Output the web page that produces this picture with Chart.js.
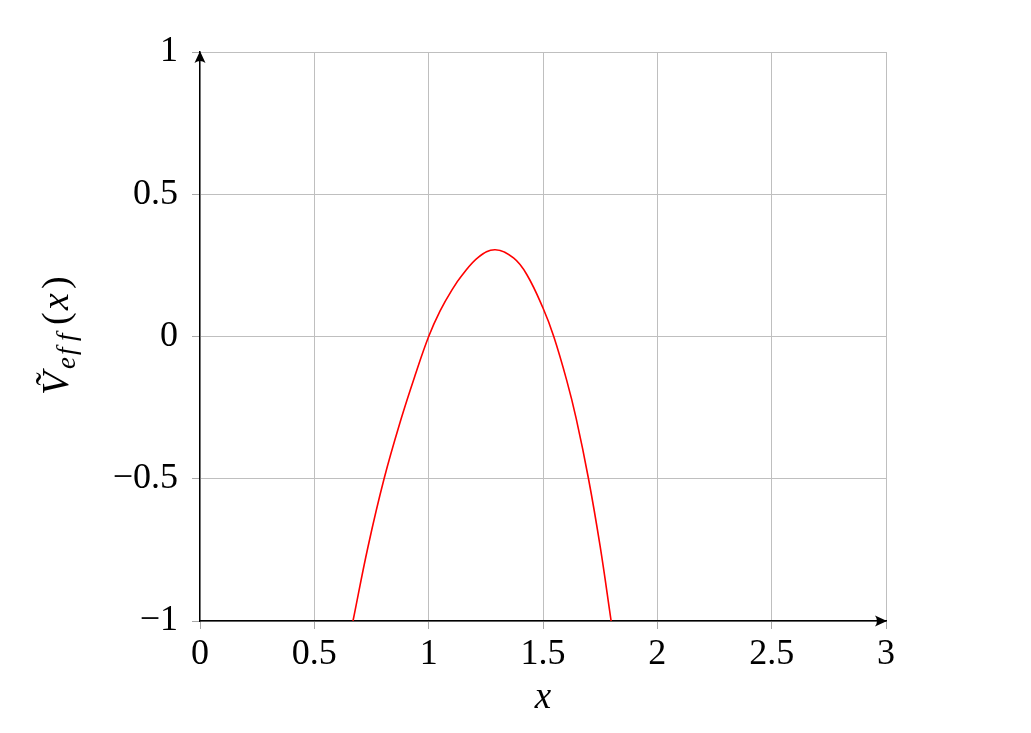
<!DOCTYPE html>
<html>
<head>
<meta charset="utf-8">
<script src="https://cdn.jsdelivr.net/npm/chart.js@4/dist/chart.umd.min.js"></script>
<style>
  html, body { margin: 0; padding: 0; background: #fff; }
  #wrap { width: 1031px; height: 733px; }
</style>
</head>
<body>
<div id="wrap"><canvas id="chart1" width="1031" height="733"></canvas></div>
<script>
// curve
const xValues = [0.669, 0.735, 0.805, 0.879, 0.94, 1.0, 1.05, 1.102, 1.146, 1.218, 1.291, 1.371, 1.429, 1.5, 1.547, 1.604, 1.645, 1.699, 1.75, 1.798];
const yValues = [-1, -0.738, -0.5, -0.291, -0.138, 0, 0.09, 0.164, 0.215, 0.279, 0.305, 0.276, 0.218, 0.1, 0, -0.155, -0.288, -0.5, -0.738, -1];

const xTicks = [0, 0.5, 1, 1.5, 2, 2.5, 3];
const yTicks = [-1, -0.5, 0, 0.5, 1];

const serif = '"Liberation Serif", "DejaVu Serif", serif';
const points = xValues.map((x, i) => ({ x: x, y: yValues[i] }));

function fmt(v) {
  return String(v).replace('-', '\u2212');
}

// arrows on the axes and the axis titles
const decor = {
  id: 'decor',
  afterDraw(chart) {
    const ctx = chart.ctx;
    const a = chart.chartArea;
    ctx.save();
    ctx.fillStyle = '#000';
    // arrow up on the y axis
    ctx.beginPath();
    ctx.moveTo(a.left, a.top - 1);
    ctx.lineTo(a.left - 5.5, a.top + 11);
    ctx.quadraticCurveTo(a.left, a.top + 7, a.left + 5.5, a.top + 11);
    ctx.closePath();
    ctx.fill();
    // arrow right on the x axis
    ctx.beginPath();
    ctx.moveTo(a.right + 1, a.bottom);
    ctx.lineTo(a.right - 11, a.bottom - 5.5);
    ctx.quadraticCurveTo(a.right - 7, a.bottom, a.right - 11, a.bottom + 5.5);
    ctx.closePath();
    ctx.fill();

    // x title
    ctx.font = 'italic 37px ' + serif;
    ctx.textAlign = 'center';
    ctx.textBaseline = 'alphabetic';
    ctx.fillText('x', (a.left + a.right) / 2, 708);

    // y title, rotated, V~ with subscript eff
    ctx.translate(68, 335);
    ctx.rotate(-Math.PI / 2);
    const parts = [
      { t: 'V\u0303', f: 'italic 38px ' + serif, dy: 0, w: 26 },
      { t: 'e', f: 'italic 27px ' + serif, dy: 7, w: 14 },
      { t: 'f', f: 'italic 27px ' + serif, dy: 7, w: 14 },
      { t: 'f', f: 'italic 27px ' + serif, dy: 7, w: 16 },
      { t: '(', f: '38px ' + serif, dy: 0, w: 15 },
      { t: 'x', f: 'italic 38px ' + serif, dy: 0, w: 21 },
      { t: ')', f: '38px ' + serif, dy: 0, w: 14 }
    ];
    let total = 0;
    parts.forEach(p => { total += p.w; });
    let cx = -total / 2;
    ctx.textAlign = 'left';
    parts.forEach(p => {
      ctx.font = p.f;
      ctx.fillText(p.t, cx, p.dy);
      cx += p.w;
    });
    ctx.restore();
  }
};

new Chart(document.getElementById('chart1'), {
  type: 'line',
  data: {
    datasets: [{
      data: points,
      borderColor: '#ff0000',
      borderWidth: 1.6,
      pointRadius: 0,
      fill: false,
      tension: 0.4
    }]
  },
  options: {
    responsive: false,
    animation: false,
    events: [],
    layout: { padding: { left: 0, top: 52, right: 145, bottom: 0 } },
    plugins: { legend: { display: false }, tooltip: { enabled: false } },
    scales: {
      x: {
        type: 'linear',
        min: 0, max: 3,
        afterFit(scale) { scale.height = 112; },
        afterBuildTicks(scale) { scale.ticks = xTicks.map(v => ({ value: v })); },
        grid: { color: '#bfbfbf', lineWidth: 1, tickLength: 8, tickColor: '#a8a8a8' },
        border: { color: '#000', width: 1.4 },
        ticks: {
          color: '#000',
          font: { family: serif, size: 36 },
          padding: 4,
          maxRotation: 0,
          callback: v => fmt(v)
        }
      },
      y: {
        type: 'linear',
        min: -1, max: 1,
        afterFit(scale) { scale.width = 200; },
        afterBuildTicks(scale) { scale.ticks = yTicks.map(v => ({ value: v })); },
        grid: { color: '#bfbfbf', lineWidth: 1, tickLength: 8, tickColor: '#a8a8a8' },
        border: { color: '#000', width: 1.4 },
        ticks: {
          color: '#000',
          font: { family: serif, size: 36 },
          padding: 14,
          callback: v => fmt(v)
        }
      }
    }
  },
  plugins: [decor]
});
</script>
</body>
</html>
